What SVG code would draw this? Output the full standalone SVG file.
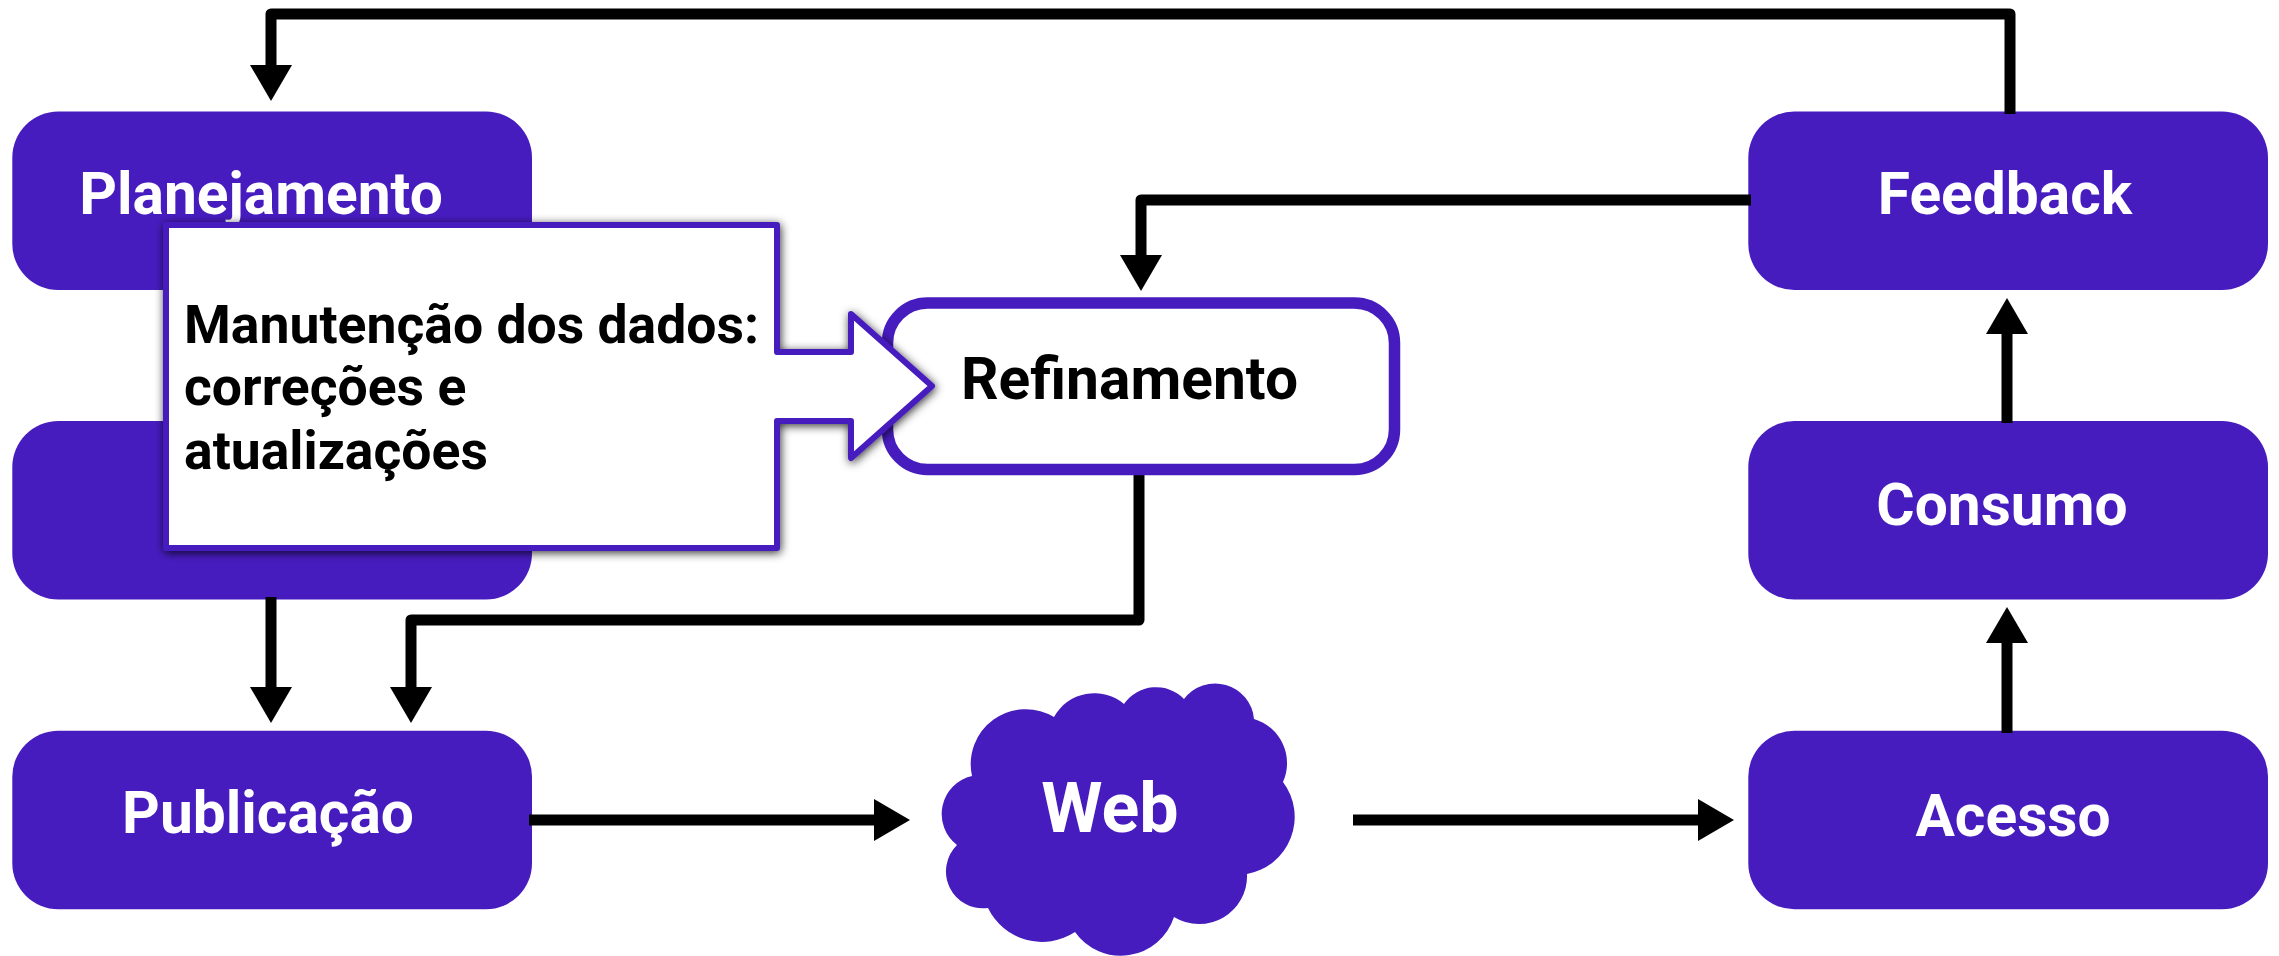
<svg xmlns="http://www.w3.org/2000/svg" width="2279" height="956" viewBox="0 0 2279 956">
<style>
.n{fill:#471cbf}
.t{font-family:Roboto,"Liberation Sans",sans-serif;font-weight:700;font-size:58.7px;fill:#fff;text-anchor:middle}
.b{font-family:Roboto,"Liberation Sans",sans-serif;font-weight:700;font-size:53.5px;fill:#000}
.c{fill:none;stroke:#000;stroke-width:11;stroke-linejoin:round}
</style>
<defs>
<marker id="ah" markerUnits="userSpaceOnUse" markerWidth="37" markerHeight="42" refX="0" refY="21" orient="auto"><path d="M0 0L36 21L0 42Z" fill="#000"/></marker>
<filter id="sh" x="-5%" y="-5%" width="110%" height="110%"><feDropShadow dx="1" dy="2" stdDeviation="5" flood-color="#000" flood-opacity=".8"/></filter>
</defs>
<g id="planejamento"><rect class="n" x="12.3" y="111.5" width="519.7" height="178.5" rx="46"/><text class="t" x="261" y="214">Planejamento</text></g>
<g id="processo"><rect class="n" x="12.3" y="421" width="519.7" height="178.5" rx="46"/></g>
<g id="publicacao"><rect class="n" x="12.3" y="730.7" width="519.7" height="178.5" rx="46"/><text class="t" x="268" y="833">Publicação</text></g>
<g id="web"><path class="n" d="M972 776A55 55 0 0 1 1054 717A46 46 0 0 1 1124 704A39 39 0 0 1 1184 699A39 39 0 0 1 1254 719A46 46 0 0 1 1283 782A58 58 0 0 1 1247 874A48 48 0 0 1 1174 917A56 56 0 0 1 1075 932A60 60 0 0 1 988 908A37 37 0 0 1 957 845A39 39 0 0 1 972 776Z"/><text class="t" x="1110" y="832" style="font-size:70px">Web</text></g>
<g id="acesso"><rect class="n" x="1748.3" y="730.7" width="519.7" height="178.5" rx="46"/><text class="t" x="2013" y="836">Acesso</text></g>
<g id="consumo"><rect class="n" x="1748.3" y="421" width="519.7" height="178.5" rx="46"/><text class="t" x="2002" y="525">Consumo</text></g>
<g id="feedback"><rect class="n" x="1748.3" y="111.5" width="519.7" height="178.5" rx="46"/><text class="t" x="2005" y="214">Feedback</text></g>
<g id="connectors">
<path class="c" d="M2010 114V14H271V65" marker-end="url(#ah)"/>
<path class="c" d="M1751 200H1141V255" marker-end="url(#ah)"/>
<path class="c" d="M1139 472V620H411V687" marker-end="url(#ah)"/>
<path class="c" d="M271 597V687" marker-end="url(#ah)"/>
<path class="c" d="M529 820H874" marker-end="url(#ah)"/>
<path class="c" d="M1353 820H1698" marker-end="url(#ah)"/>
<path class="c" d="M2007 733V643" marker-end="url(#ah)"/>
<path class="c" d="M2007 423V334" marker-end="url(#ah)"/>
</g>
<g id="refinamento"><rect x="887.5" y="303" width="507" height="166.5" rx="40" fill="#fff" stroke="#471cbf" stroke-width="11.5"/><text class="b" x="961" y="399" style="font-size:58.7px">Refinamento</text></g>
<g id="manutencao"><path d="M166 225H777V352H851V314L932 386L851 458V421H777V548H166Z" fill="#fff" stroke="#471cbf" stroke-width="6" stroke-linejoin="round" filter="url(#sh)"/><text class="b" x="184" y="343">Manutenção dos dados:</text><text class="b" x="184" y="405">correções e</text><text class="b" x="184" y="469">atualizações</text></g>
</svg>
